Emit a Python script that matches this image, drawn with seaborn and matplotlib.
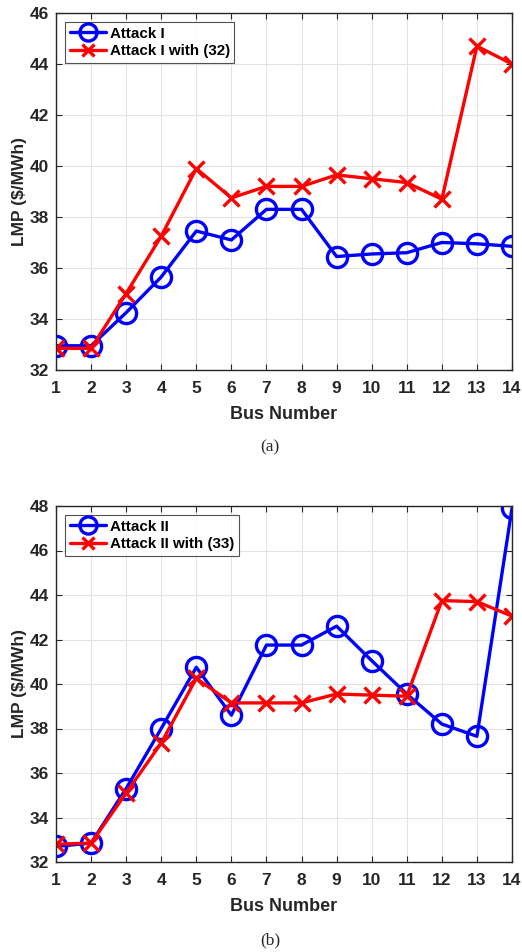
import matplotlib
matplotlib.use("Agg")
import matplotlib.pyplot as plt
import seaborn as sns

bus = list(range(1, 15))

attack1 = [32.95, 32.95, 34.25, 35.65, 37.45, 37.1, 38.3, 38.3, 36.45, 36.55, 36.6, 37.0, 36.95, 36.85]
attack1_32 = [32.85, 32.85, 35.0, 37.25, 39.9, 38.75, 39.2, 39.2, 39.65, 39.5, 39.35, 38.7, 44.7, 44.0]

attack2 = [32.7, 32.85, 35.3, 38.0, 40.75, 38.6, 41.75, 41.75, 42.6, 41.05, 39.55, 38.2, 37.65, 47.9]
attack2_33 = [32.8, 32.85, 35.1, 37.35, 40.25, 39.15, 39.15, 39.15, 39.55, 39.5, 39.45, 43.75, 43.7, 43.05]

sns.set_style("ticks")
plt.rcParams["font.family"] = ["Liberation Sans", "DejaVu Sans"]
TXT = "#262626"

W, H = 522, 952
fig = plt.figure(figsize=(W / 100, H / 100), dpi=100)


def panel(top, bottom, blue, red, labels, ylim, caption, cap_y):
    ax = fig.add_axes([56 / W, 1 - bottom / H, (512 - 56) / W, (bottom - top) / H])
    sns.lineplot(x=bus, y=blue, ax=ax, color="#0000ff", linewidth=2.4, marker="o",
                 markersize=14.5, markerfacecolor="none", markeredgecolor="#0000ff",
                 markeredgewidth=2.4, label=labels[0])
    sns.lineplot(x=bus, y=red, ax=ax, color="#ff0000", linewidth=2.4, marker="x",
                 markersize=11, markeredgecolor="#ff0000", markeredgewidth=2.4,
                 label=labels[1])
    ax.set_xlim(1, 14)
    ax.set_ylim(*ylim)
    ax.set_xticks(bus)
    ax.set_yticks(range(ylim[0], ylim[1] + 1, 2))
    ax.grid(True, color="#e3e3e3", linewidth=0.8)
    ax.set_axisbelow(True)
    for s in ax.spines.values():
        s.set_color(TXT)
        s.set_linewidth(1.0)
    ax.tick_params(direction="in", length=4, width=0.8, top=True, right=True,
                   labelsize=12.5, colors=TXT, pad=5)
    ax.tick_params(axis="x", pad=8)
    for t in ax.get_xticklabels() + ax.get_yticklabels():
        t.set_fontweight("bold")
    ax.set_xlabel("Bus Number", fontsize=13, fontweight="bold", color=TXT, labelpad=7)
    ax.set_ylabel("LMP ($/MWh)", fontsize=12.5, fontweight="bold", color=TXT, labelpad=2)
    leg = ax.legend(loc="upper left", fontsize=10.9, frameon=True, fancybox=False,
                    handlelength=2.4, borderpad=0.3, labelspacing=0.25,
                    handletextpad=0.25, borderaxespad=0.6, markerscale=0.85)
    leg.get_frame().set_edgecolor(TXT)
    leg.get_frame().set_linewidth(0.8)
    for t in leg.get_texts():
        t.set_fontweight("bold")
        t.set_color("black")
    fig.text(270 / W, 1 - cap_y / H, caption, ha="center", va="center",
             fontsize=12.5, family=["Liberation Serif", "DejaVu Serif"])
    return ax


panel(13, 370, attack1, attack1_32, ["Attack I", "Attack I with (32)"], (32, 46), "(a)", 447)
panel(506, 862, attack2, attack2_33, ["Attack II", "Attack II with (33)"], (32, 48), "(b)", 940)

fig.savefig("out.png", dpi=100, facecolor="white")
